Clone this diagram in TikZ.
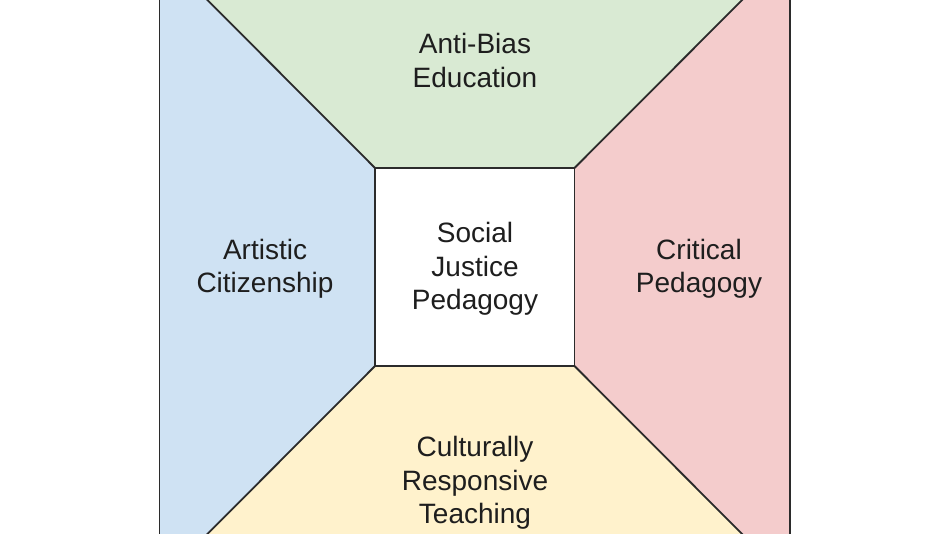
\documentclass[tikz,border=0pt]{standalone}
\usepackage{fontspec}
\setmainfont{Liberation Sans}
\definecolor{cblue}{HTML}{CFE2F3}
\definecolor{cgreen}{HTML}{D9EAD3}
\definecolor{cred}{HTML}{F4CCCC}
\definecolor{cyellow}{HTML}{FFF2CC}
\definecolor{edge}{HTML}{2B2B2B}
\definecolor{txt}{HTML}{1E1E1E}
\tikzset{
  panel/.style={draw=edge, line width=1.8pt, line join=miter},
  label/.style={align=center, text=txt, font=\fontsize{28}{33.5}\selectfont, inner sep=0pt}
}
\begin{document}
\begin{tikzpicture}[x=1pt,y=-1pt]
\useasboundingbox (0,0) rectangle (950,534);
\clip (0,0) rectangle (950,534);
\fill[white] (0,0) rectangle (950,534);
\coordinate (otl) at (159.5,-48);
\coordinate (otr) at (790,-48);
\coordinate (obr) at (790,582);
\coordinate (obl) at (159.5,582);
\coordinate (itl) at (375,168);
\coordinate (itr) at (574.5,168);
\coordinate (ibr) at (574.5,366);
\coordinate (ibl) at (375,366);
\fill[cgreen] (otl) -- (otr) -- (itr) -- (itl) -- cycle;
\fill[cred] (otr) -- (obr) -- (ibr) -- (itr) -- cycle;
\fill[cyellow] (obr) -- (obl) -- (ibl) -- (ibr) -- cycle;
\fill[cblue] (obl) -- (otl) -- (itl) -- (ibl) -- cycle;
\draw[panel] (otl) -- (otr) -- (obr) -- (obl) -- cycle;
\draw[panel] (otl) -- (itl);
\draw[panel] (otr) -- (itr);
\draw[panel] (obr) -- (ibr);
\draw[panel] (obl) -- (ibl);
\draw[panel, fill=white] (itl) -- (itr) -- (ibr) -- (ibl) -- cycle;
\node[label] (top) at (475,60.5) {Anti-Bias\\Education};
\node[label] (center) at (475,269) {Social\\Justice\\Pedagogy};
\node[label] (left) at (265,269) {Artistic\\Citizenship};
\node[label] (right) at (699,269) {Critical\\Pedagogy};
\node[label] (bottom) at (475,483) {Culturally\\Responsive\\Teaching};
\end{tikzpicture}
\end{document}
